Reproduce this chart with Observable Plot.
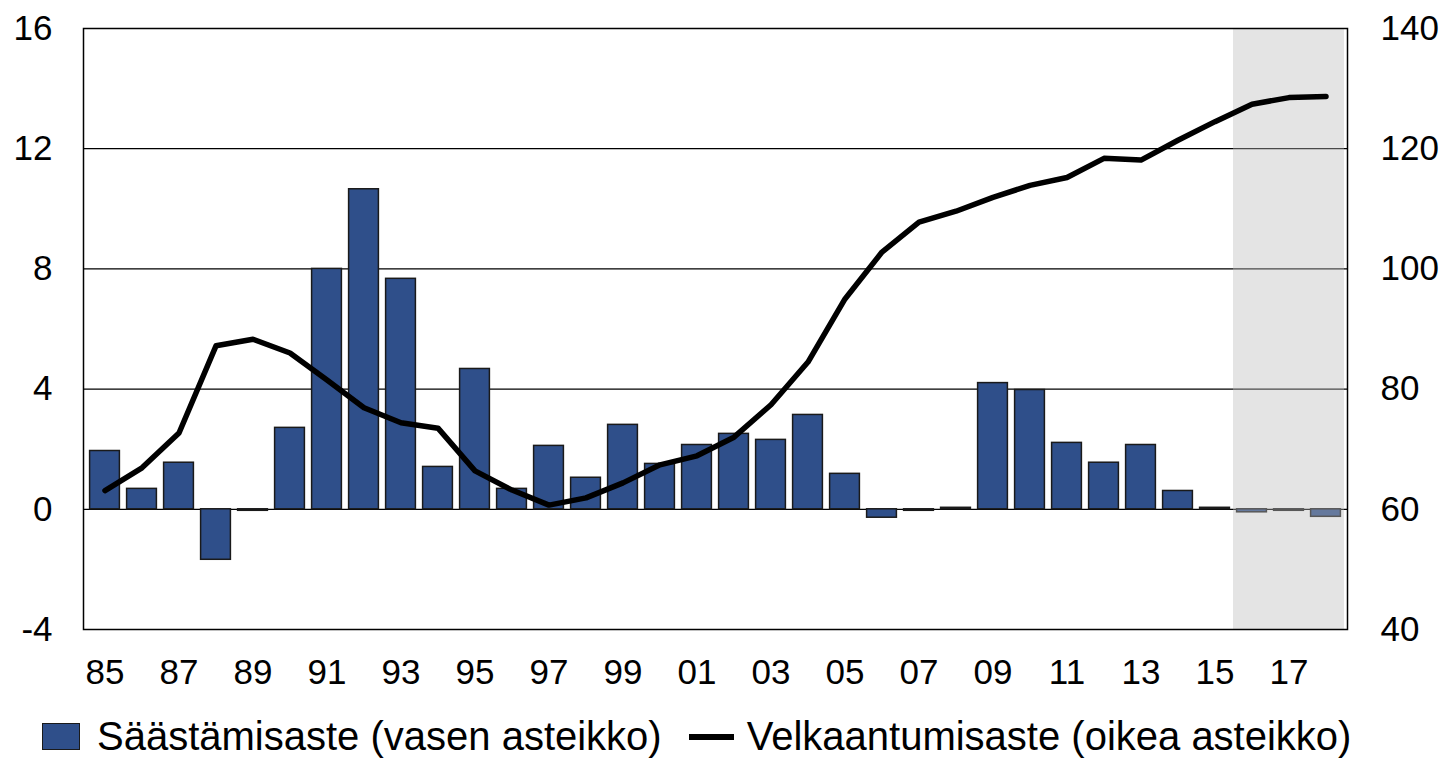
<!DOCTYPE html>
<html>
<head>
<meta charset="utf-8">
<script src="https://cdn.jsdelivr.net/npm/d3@7"></script>
<script src="https://cdn.jsdelivr.net/npm/@observablehq/plot@0.6"></script>
<style>
  body { margin: 0; background: #fff; font-family: "Liberation Sans", Arial, sans-serif; }
  #chart svg { display: block; }
  .legend { display: flex; align-items: center; height: 61px; font-size: 40px; color: #000; padding-left: 42px; margin-top: 6px; }
  .sw-bar { width: 36px; height: 25px; background: #2F4F8A; border: 1.5px solid #1a1a1a; margin-right: 17px; flex: none; }
  .sw-line { width: 45px; height: 6px; background: #000; margin-left: 27px; margin-right: 13px; flex: none; }
  .legend span { white-space: nowrap; }
</style>
</head>
<body>
<div id="chart"></div>
<div class="legend">
  <div class="sw-bar"></div><span>Säästämisaste (vasen asteikko)</span>
  <div class="sw-line"></div><span>Velkaantumisaste (oikea asteikko)</span>
</div>
<script>
const years = d3.range(1985, 2019);
const saving = [1.94, 0.68, 1.55, -1.68, -0.05, 2.71, 8.0, 10.65, 7.67, 1.41,
  4.67, 0.68, 2.11, 1.05, 2.81, 1.51, 2.14, 2.51, 2.31, 3.14,
  1.18, -0.28, -0.05, 0.05, 4.2, 3.97, 2.21, 1.55, 2.14, 0.61,
  0.05, -0.1, -0.05, -0.25];
const debt = [63.1, 66.9, 72.7, 87.2, 88.3, 86.0, 81.5, 76.9, 74.4, 73.5,
  66.4, 63.2, 60.7, 61.9, 64.4, 67.4, 68.9, 72.0, 77.4, 84.5,
  95.0, 102.8, 107.8, 109.6, 111.9, 113.9, 115.2, 118.4, 118.1, 121.4,
  124.5, 127.4, 128.5, 128.7];
const forecastYears = [2016, 2017, 2018];
const leftTicks = [-4, 0, 4, 8, 12, 16];
const rightTicks = [40, 60, 80, 100, 120, 140];

const data = years.map((y, i) => ({year: y, saving: saving[i], debt: debt[i]}));
const toLeft = v => (v - 60) / 5;
const shade = forecastYears.map(y => ({year: y}));

const chart = Plot.plot({
  width: 1445,
  height: 700,
  marginLeft: 83,
  marginRight: 98,
  marginTop: 28,
  marginBottom: 71,
  style: {fontFamily: "'Liberation Sans', Arial, sans-serif", fontSize: "35px", color: "#000", background: "#fff"},
  x: {type: "band", domain: years, padding: 0},
  y: {domain: [-4, 16]},
  marks: [
    Plot.gridY(leftTicks, {stroke: "#000", strokeOpacity: 1, strokeWidth: 1.2}),
    Plot.barY(data, {x: "year", y: "saving", fill: "#2F4F8A", stroke: "#1a1a1a", strokeWidth: 1.5, insetLeft: 3.6, insetRight: 3.6}),
    Plot.barY(shade, {x: "year", y1: -4, y2: 16, fill: "rgb(187,187,187)", fillOpacity: 0.394}),
    Plot.line(data, {x: "year", y: d => toLeft(d.debt), stroke: "#000", strokeWidth: 5.5, strokeLinejoin: "round", strokeLinecap: "round"}),
    Plot.frame({stroke: "#000", strokeWidth: 1.5}),
    Plot.axisY({ticks: leftTicks, tickSize: 0, tickPadding: 31, label: null, fontSize: 35, tickFormat: d => String(d)}),
    Plot.axisY({anchor: "right", ticks: rightTicks.map(toLeft), tickFormat: d => String(Math.round(d * 5 + 60)), tickSize: 0, tickPadding: 33, label: null, fontSize: 35}),
    Plot.axisX({ticks: years.filter(y => y % 2 === 1), tickFormat: d => String(d % 100).padStart(2, "0"), tickSize: 0, tickPadding: 30, label: null, fontSize: 35})
  ]
});
document.getElementById("chart").appendChild(chart);
</script>
</body>
</html>
